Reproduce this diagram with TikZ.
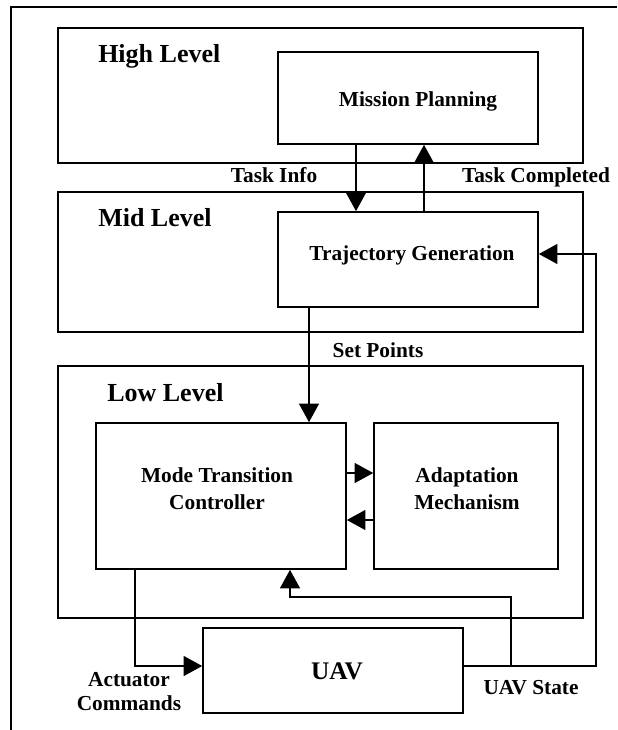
\documentclass[tikz,border=0pt]{standalone}
\usepackage{fontspec}
\setmainfont{Liberation Serif}
\usetikzlibrary{arrows.meta, positioning}
\newlength{\pxu}
\setlength{\pxu}{0.75pt}
\tikzset{
    wire/.style={line width=1.2pt},
    levelbox/.style={draw, line width=1.2pt, minimum width=525\pxu, inner sep=0pt},
    blockbox/.style={draw, line width=1.2pt, inner sep=0pt},
    boxtext/.style={anchor=base, inner sep=0pt, align=center,
        font=\fontsize{16}{20.25}\selectfont\bfseries},
    leveltitle/.style={anchor=base west, inner sep=0pt,
        font=\fontsize{19.5}{22}\selectfont\bfseries},
    siglabel/.style={anchor=base, inner sep=0pt, align=center,
        font=\fontsize{16}{18}\selectfont\bfseries},
    arr/.style={line width=1.2pt, -{Triangle[length=14pt,width=15pt]}},
}

\begin{document}
\begin{tikzpicture}[x=0.75pt, y=-0.75pt]
    \useasboundingbox (0,0) rectangle (617,730);
    % page frame
    \draw[wire] (11,730) -- (11,7) -- (617,7);
    % the three levels
    \node[levelbox, minimum height=135\pxu] (high) at (320.5,95.5) {};
    \node[levelbox, minimum height=140\pxu] (mid) at (320.5,262) {};
    \node[levelbox, minimum height=252\pxu] (low) at (320.5,492) {};
    \node[leveltitle] (hightitle) at (98,63) {High Level};
    \node[leveltitle] (midtitle) at (98,227) {Mid Level};
    \node[leveltitle] (lowtitle) at (107,401) {Low Level};
    % blocks
    \node[blockbox, minimum width=260\pxu, minimum height=92\pxu] (mp) at (408,98) {};
    \node[blockbox, minimum width=260\pxu, minimum height=95\pxu] (traj) at (408,259.5) {};
    \node[blockbox, minimum width=250\pxu, minimum height=146\pxu] (mtc) at (221,496) {};
    \node[blockbox, minimum width=184\pxu, minimum height=146\pxu] (am) at (466,496) {};
    \node[blockbox, minimum width=260\pxu, minimum height=85\pxu] (uav) at (333,670.5) {};
    % texts (base = last line)
    \node[boxtext] (mptext) at (418,107) {Mission Planning};
    \node[boxtext] (trajtext) at (412,261) {Trajectory Generation};
    \node[boxtext] (mtctext) at (217,509) {Mode Transition\\Controller};
    \node[boxtext] (amtext) at (467,509) {Adaptation\\Mechanism};
    \node[boxtext, font=\fontsize{19}{22}\selectfont\bfseries] (uavtext) at (337,679) {UAV};
    % routing points
    \coordinate (infox) at (356,0);
    \coordinate (donex) at (424,0);
    \coordinate (setx) at (309,0);
    \coordinate (fwdy) at (0,473);
    \coordinate (backy) at (0,520);
    \coordinate (actc) at (135,666);
    \coordinate (fbl) at (596,666);
    \coordinate (fbu) at (596,254);
    \coordinate (brl) at (511,666);
    \coordinate (brk) at (290,597);
    % signals
    \draw[arr] (infox |- mp.south) -- (infox |- traj.north);
    \draw[arr] (donex |- traj.north) -- (donex |- mp.south);
    \draw[arr] (setx |- traj.south) -- (setx |- mtc.north);
    \draw[arr] (mtc.east |- fwdy) -- (am.west |- fwdy);
    \draw[arr] (am.west |- backy) -- (mtc.east |- backy);
    \draw[arr] (actc |- mtc.south) -- (actc) -- (uav.west |- actc);
    \draw[arr] (uav.east |- fbl) -- (fbl) -- (fbu) -- (traj.east |- fbu);
    \draw[arr] (brl) |- (brk) -- (brk |- mtc.south);
    \node[siglabel] (infolbl) at (274,183) {Task Info};
    \node[siglabel] (donelbl) at (536,183) {Task Completed};
    \node[siglabel] (setlbl) at (378,357) {Set Points};
    \node[siglabel] (actlbl) at (129,710) {Actuator\\Commands};
    \node[siglabel] (statelbl) at (531,694) {UAV State};
\end{tikzpicture}
\end{document}
